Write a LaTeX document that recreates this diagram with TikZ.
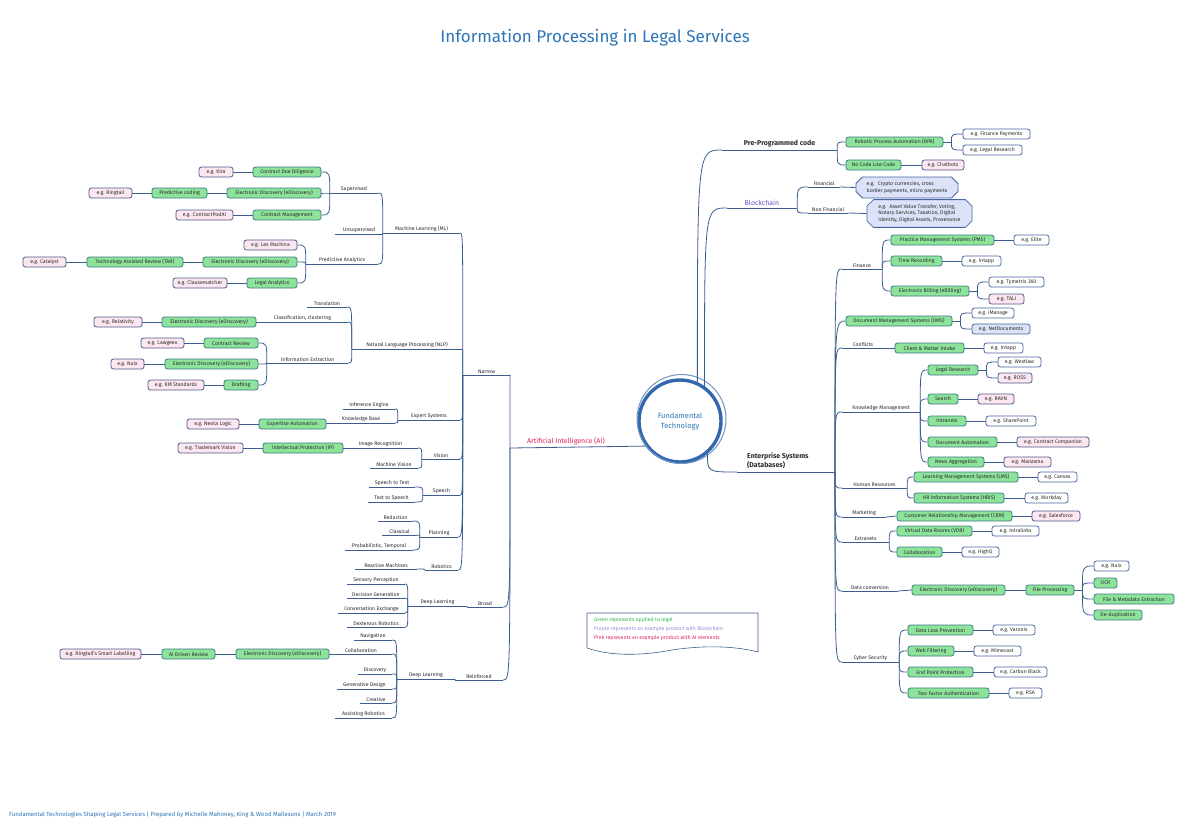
\documentclass[tikz,border=0pt]{standalone}
\usepackage{fontspec}
\setmainfont{Fira Sans}
\usetikzlibrary{calc,shapes.misc}
\definecolor{lkc}{HTML}{3C5E8F}
\definecolor{txt}{HTML}{2B2B2B}
\definecolor{gfill}{HTML}{8DE39A}
\definecolor{gdraw}{HTML}{3E7C88}
\definecolor{pfill}{HTML}{FCE6EF}
\definecolor{pdraw}{HTML}{4D5B8E}
\definecolor{wdraw}{HTML}{4A68A0}
\definecolor{lfill}{HTML}{DCE3F8}
\definecolor{ttl}{HTML}{2E75B6}
\definecolor{ctrc}{HTML}{3468AE}
\definecolor{aired}{HTML}{E0245E}
\definecolor{bcpur}{HTML}{5A55C8}
\definecolor{lgreen}{HTML}{2DB84B}
\definecolor{lpurple}{HTML}{8E8EE0}
\tikzset{
 lk/.style={draw=lkc, line width=0.8pt},
 lbl/.style={font=\fontsize{5.2}{6}\selectfont, text=txt, inner xsep=0pt, inner ysep=1.3pt, anchor=south},
 bigl/.style={font=\bfseries\fontsize{7}{8.5}\selectfont, inner ysep=2.5pt},
 bxs/.style={rounded corners=2.5pt, line width=0.8pt, minimum height=10pt, inner sep=0pt, font=\fontsize{5.2}{6}\selectfont, text=txt},
 gbox/.style={bxs, fill=gfill, draw=gdraw},
 pbox/.style={bxs, fill=pfill, draw=pdraw},
 wbox/.style={bxs, fill=white, draw=wdraw},
 lbox/.style={bxs, fill=lfill, draw=wdraw},
 cbox/.style={chamfered rectangle, chamfered rectangle xsep=3pt, fill=lfill, draw=wdraw, line width=0.8pt, inner xsep=3pt, inner ysep=1pt, align=left, font=\fontsize{5.2}{6.8}\selectfont, text=txt},
 leg/.style={anchor=west, inner sep=0pt, font=\fontsize{5.2}{6}\selectfont},
}
\newcommand\tpc[6][]{\node[lbl,#1,minimum width={#4-#3}] (#2) at ({(#3+#4)/2},#5) {#6};
 \draw[lk] (#2.south west) -- (#2.south east);}
\newcommand\bxn[6]{\node[#1,minimum width={#4-#3}] (#2) at ({(#3+#4)/2},#5) {#6};}
\newcommand\cnx[2]{\draw[lk] (#1) .. controls (#1 |- #2) .. (#2);}
\newcommand\sline[2]{\draw[lk] (#1) -- (#2);}
\newcommand\stub[2]{\coordinate (#2) at ($(#1.east)+(8,0)$); \draw[lk] (#1.east) -- (#2);}
\begin{document}
\begin{tikzpicture}[x=1pt,y=-1pt]
\fill[white] (0,0) rectangle (1188,828);
% title and footer
\node[font=\fontsize{17}{20}\selectfont, text=ttl] (title) at (595,38) {Information Processing in Legal Services};
\node[anchor=west, font=\fontsize{6}{7}\selectfont, text=ttl, inner sep=0pt] (foot) at (9,815) {Fundamental Technologies Shaping Legal Services | Prepared by Michelle Mahoney, King \& Wood Mallesons | March 2019};
% centre
\node[circle, draw=ctrc, line width=3.4pt, minimum size=82pt, inner sep=0pt, align=center, font=\fontsize{7.5}{10}\selectfont, text=ttl] (ctr) at (680,421) {Fundamental\\Technology};
\draw[ctrc!70, line width=1pt] (681.5,419) circle (44.5);
% ---------------- right: pre-programmed code
\tpc[bigl]{ppc}{722}{837}{150}{Pre-Programmed code}
\cnx{ctr.66}{ppc.south west}
\bxn{gbox}{rpa}{846}{943}{142}{Robotic Process Automation (RPA)}
\bxn{wbox}{efp}{963}{1030}{134}{e.g. Finance Payments}
\bxn{wbox}{elr}{963}{1022}{150}{e.g. Legal Research}
\bxn{gbox}{nclc}{846}{901}{165}{No Code Low Code}
\bxn{pbox}{chat}{922}{964}{165}{e.g. Chatbots}
\cnx{ppc.south east}{rpa.west}
\cnx{ppc.south east}{nclc.west}
\stub{rpa}{rpaS}
\cnx{rpaS}{efp.west}
\cnx{rpaS}{elr.west}
\sline{nclc.east}{chat.west}
% ---------------- blockchain
\tpc[bigl,font=\fontsize{7}{8.5}\selectfont,text=bcpur]{bc}{727}{797}{208}{Blockchain}
\cnx{ctr.55}{bc.south west}
\tpc{fin}{808}{840}{187}{Financial}
\tpc{nfin}{808}{848}{213}{Non Financial}
\cnx{bc.south east}{fin.south west}
\cnx{bc.south east}{nfin.south west}
\node[cbox, minimum width=102pt, minimum height=19pt] (cb1) at (907,187.5) {e.g. \ Crypto currencies, cross\\border payments, micro payments};
\node[cbox, minimum width=105pt, minimum height=27pt] (cb2) at (919.5,213.5) {e.g. \ Asset Value Transfer, Voting,\\Notary Services, Taxation, Digital\\Identity, Digital Assets, Provenance};
\sline{fin.south east}{cb1.west}
\sline{nfin.south east}{cb2.west}
% ---------------- enterprise systems
\coordinate (entL) at (737,472);
\coordinate (entR) at (835,472);
\node[font=\bfseries\fontsize{7}{9}\selectfont, text=txt, align=left, anchor=south west, inner sep=0pt] (entlbl) at (747,469) {Enterprise Systems\\(Databases)};
\draw[lk] (entL) -- (entR);
\cnx{ctr.-50}{entL}
\tpc{finance}{842}{882}{269}{Finance}
\tpc{conf}{842}{884}{348}{Conflicts}
\tpc{km}{842}{920}{412}{Knowledge Management}
\tpc{hr}{842}{907}{488}{Human Resources}
\tpc{mk}{842}{886}{517}{Marketing}
\tpc{ex}{842}{889}{542}{Extranets}
\tpc{dc}{842}{898}{591}{Data conversion}
\tpc{cy}{842}{899}{662}{Cyber Security}
\bxn{gbox}{dms}{846}{952}{321}{Document Management Systems (DMS)}
\foreach \n in {finance,conf,km,hr,mk,ex,dc,cy} {\cnx{entR}{\n.south west}}
\cnx{entR}{dms.west}
% finance
\bxn{gbox}{pms}{891}{994}{240}{Practice Management Systems (PMS)}
\bxn{wbox}{elite}{1014}{1049}{240}{e.g. Elite}
\bxn{gbox}{trc}{891}{942}{261}{Time Recording}
\bxn{wbox}{intapp1}{962}{1001}{261}{e.g. Intapp}
\bxn{gbox}{ebill}{891}{969}{291}{Electronic Billing (eBilling)}
\bxn{wbox}{tym}{989}{1044}{282}{e.g. Tymetrix 360}
\bxn{pbox}{tali}{989}{1024}{299}{e.g. TALI}
\foreach \n in {pms,trc,ebill} {\cnx{finance.south east}{\n.west}}
\sline{pms.east}{elite.west}
\sline{trc.east}{intapp1.west}
\stub{ebill}{ebS}
\cnx{ebS}{tym.west}
\cnx{ebS}{tali.west}
% dms
\bxn{wbox}{iman}{972}{1014}{313}{e.g. iManage}
\bxn{lbox}{netd}{972}{1030}{329}{e.g. NetDocuments}
\stub{dms}{dmsS}
\cnx{dmsS}{iman.west}
\cnx{dmsS}{netd.west}
% conflicts
\bxn{gbox}{cmi}{895}{964}{348}{Client \& Matter Intake}
\bxn{wbox}{intapp2}{984}{1023}{348}{e.g. Intapp}
\sline{conf.south east}{cmi.west}
\sline{cmi.east}{intapp2.west}
% knowledge management
\bxn{gbox}{lr}{928}{978}{370}{Legal Research}
\bxn{wbox}{wl}{998}{1041}{362}{e.g. Westlaw}
\bxn{pbox}{ross}{998}{1032}{378}{e.g. ROSS}
\bxn{gbox}{srch}{928}{958}{399}{Search}
\bxn{pbox}{ravn}{978}{1014}{399}{e.g. RAVN}
\bxn{gbox}{intr}{928}{966}{421}{Intranets}
\bxn{wbox}{shp}{986}{1036}{421}{e.g. SharePoint}
\bxn{gbox}{da}{928}{997}{442}{Document Automation}
\bxn{pbox}{ccomp}{1017}{1089}{442}{e.g. Contract Companion}
\bxn{gbox}{na}{928}{984}{462}{News Aggregation}
\bxn{pbox}{manz}{1004}{1051}{462}{e.g. Manzama}
\foreach \n in {lr,srch,intr,da,na} {\cnx{km.south east}{\n.west}}
\stub{lr}{lrS}
\cnx{lrS}{wl.west}
\cnx{lrS}{ross.west}
\sline{srch.east}{ravn.west}
\sline{intr.east}{shp.west}
\sline{da.east}{ccomp.west}
\sline{na.east}{manz.west}
% human resources
\bxn{gbox}{lms}{914}{1018}{477}{Learning Management Systems (LMS)}
\bxn{wbox}{canv}{1038}{1077}{477}{e.g. Canvas}
\bxn{gbox}{hris}{914}{1004}{498}{HR Information Systems (HRIS)}
\bxn{wbox}{wd}{1025}{1068}{498}{e.g. Workday}
\cnx{hr.south east}{lms.west}
\cnx{hr.south east}{hris.west}
\sline{lms.east}{canv.west}
\sline{hris.east}{wd.west}
% marketing
\bxn{gbox}{crm}{897}{1012}{516}{Customer Relationship Management (CRM)}
\bxn{pbox}{sf}{1032}{1080}{516}{e.g. Salesforce}
\sline{mk.south east}{crm.west}
\sline{crm.east}{sf.west}
% extranets
\bxn{gbox}{vdr}{897}{972}{531}{Virtual Data Rooms (VDR)}
\bxn{wbox}{intl}{992}{1039}{531}{e.g. Intralinks}
\bxn{gbox}{collab}{897}{942}{552}{Collaboration}
\bxn{wbox}{hq}{962}{999}{552}{e.g. HighQ}
\cnx{ex.south east}{vdr.west}
\cnx{ex.south east}{collab.west}
\sline{vdr.east}{intl.west}
\sline{collab.east}{hq.west}
% data conversion
\bxn{gbox}{ed6}{912}{1005}{590}{Electronic Discovery (eDiscovery)}
\bxn{gbox}{fp}{1026}{1074}{590}{File Processing}
\bxn{wbox}{nuix2}{1094}{1129}{566}{e.g. Nuix}
\bxn{gbox}{ocr}{1094}{1117}{583}{OCR}
\bxn{gbox}{fme}{1094}{1174}{599}{File \& Metadata Extraction}
\bxn{gbox}{dedup}{1094}{1142}{615}{De-duplication}
\sline{dc.south east}{ed6.west}
\sline{ed6.east}{fp.west}
\stub{fp}{fpS}
\foreach \n in {nuix2,ocr,fme,dedup} {\cnx{fpS}{\n.west}}
% cyber security
\bxn{gbox}{dlp}{908}{973}{630}{Data Loss Prevention}
\bxn{wbox}{var}{993}{1035}{630}{e.g. Varonis}
\bxn{gbox}{wf}{908}{954}{651}{Web Filtering}
\bxn{wbox}{mime}{974}{1021}{651}{e.g. Mimecast}
\bxn{gbox}{epp}{908}{973}{672}{End Point Protection}
\bxn{wbox}{cblk}{994}{1047}{672}{e.g. Carbon Black}
\bxn{gbox}{tfa}{908}{989}{693}{Two Factor Authentication}
\bxn{wbox}{rsa}{1009}{1042}{693}{e.g. RSA}
\foreach \n in {dlp,wf,epp,tfa} {\cnx{cy.south east}{\n.west}}
\sline{dlp.east}{var.west}
\sline{wf.east}{mime.west}
\sline{epp.east}{cblk.west}
\sline{tfa.east}{rsa.west}
% ---------------- left: artificial intelligence
\node[font=\fontsize{7}{8.5}\selectfont, text=aired, anchor=south, inner sep=0pt] (ailbl) at (566,445) {Artificial Intelligence (AI)};
\coordinate (aiL) at (510,448);
\draw[lk] (ctr.-144) -- (aiL);
\tpc{nar}{463}{510}{375}{Narrow}
\tpc{br}{467}{503}{607}{Broad}
\tpc{rf}{455}{503}{680}{Reinforced}
\cnx{aiL}{nar.south east}
\cnx{aiL}{br.south east}
\cnx{aiL}{rf.south east}
% narrow children
\tpc{ml}{383}{460}{233}{Machine Learning (ML)}
\tpc{nlp}{352}{462}{349}{Natural Language Processing (NLP)}
\tpc{es}{398}{460}{420}{Expert Systems}
\tpc{vis}{422}{460}{459}{Vision}
\tpc{sp}{423}{460}{495}{Speech}
\tpc{pl}{420}{458}{537}{Planning}
\tpc{rob}{425}{458}{570}{Robotics}
\foreach \n in {ml,nlp,es,vis,sp,pl,rob} {\cnx{nar.south west}{\n.south east}}
% machine learning
\tpc{sup}{330}{378}{193}{Supervised}
\tpc{uns}{335}{383}{234}{Unsupervised}
\tpc{pa}{306}{378}{264}{Predictive Analytics}
\foreach \n in {sup,uns,pa} {\cnx{ml.south west}{\n.south east}}
\bxn{gbox}{cdd}{253}{321}{172}{Contract Due Diligence}
\bxn{pbox}{kira}{199}{233}{172}{e.g. Kira}
\bxn{gbox}{ed1}{227}{321}{193}{Electronic Discovery (eDiscovery)}
\bxn{gbox}{pc}{152}{207}{193}{Predictive coding}
\bxn{pbox}{ring}{89}{132}{193}{e.g. Ringtail}
\bxn{gbox}{cm}{253}{321}{215}{Contract Management}
\bxn{pbox}{cpa}{176}{233}{215}{e.g. ContractPodAI}
\foreach \n in {cdd,ed1,cm} {\cnx{sup.south west}{\n.east}}
\sline{cdd.west}{kira.east}
\sline{ed1.west}{pc.east}
\sline{pc.west}{ring.east}
\sline{cm.west}{cpa.east}
\bxn{pbox}{lm}{244}{297}{245}{e.g. Lex Machina}
\bxn{gbox}{ed2}{203}{297}{262}{Electronic Discovery (eDiscovery)}
\bxn{gbox}{tar}{87}{183}{262}{Technology Assisted Review (TAR)}
\bxn{pbox}{cat}{23}{66}{262}{e.g. Catalyst}
\bxn{gbox}{la}{247}{297}{283}{Legal Analytics}
\bxn{pbox}{cls}{173}{227}{283}{e.g. Clausematcher}
\foreach \n in {lm,ed2,la} {\cnx{pa.south west}{\n.east}}
\sline{ed2.west}{tar.east}
\sline{tar.west}{cat.east}
\sline{la.west}{cls.east}
% nlp
\tpc{tr}{307}{347}{307}{Translation}
\tpc{cc}{257}{348}{322}{Classification, clustering}
\tpc{ie}{267}{348}{363}{Information Extraction}
\foreach \n in {tr,cc,ie} {\cnx{nlp.south west}{\n.south east}}
\bxn{gbox}{ed3}{162}{256}{322}{Electronic Discovery (eDiscovery)}
\bxn{pbox}{rel}{94}{142}{322}{e.g. Relativity}
\sline{cc.south west}{ed3.east}
\sline{ed3.west}{rel.east}
\bxn{gbox}{cr}{204}{258}{343}{Contract Review}
\bxn{pbox}{lg}{141}{184}{343}{e.g. Lawgeex}
\bxn{gbox}{ed4}{165}{258}{364}{Electronic Discovery (eDiscovery)}
\bxn{pbox}{nuix1}{111}{144}{364}{e.g. Nuix}
\bxn{gbox}{dft}{224}{258}{385}{Drafting}
\bxn{pbox}{kms}{148}{204}{385}{e.g. KM Standards}
\foreach \n in {cr,ed4,dft} {\cnx{ie.south west}{\n.east}}
\sline{cr.west}{lg.east}
\sline{ed4.west}{nuix1.east}
\sline{dft.west}{kms.east}
% expert systems
\tpc{ieng}{343}{395}{409}{Inference Engine}
\tpc{kb}{327}{395}{423}{Knowledge Base}
\cnx{es.south west}{ieng.south east}
\cnx{es.south west}{kb.south east}
\bxn{gbox}{ea}{259}{326}{424}{Expertise Automation}
\bxn{pbox}{nl}{187}{239}{424}{e.g. Neota Logic}
\sline{kb.south west}{ea.east}
\sline{ea.west}{nl.east}
% vision
\tpc{ir}{343}{418}{448}{Image Recognition}
\tpc{mv}{370}{418}{468}{Machine Vision}
\cnx{vis.south west}{ir.south east}
\cnx{vis.south west}{mv.south east}
\bxn{gbox}{ip}{263}{343}{448}{Intellectual Protection (IP)}
\bxn{pbox}{tv}{178}{243}{448}{e.g. Trademark Vision}
\sline{ir.south west}{ip.east}
\sline{ip.west}{tv.east}
% speech
\tpc{stt}{369}{415}{487}{Speech to Text}
\tpc{tts}{368}{415}{502}{Text to Speech}
\cnx{sp.south west}{stt.south east}
\cnx{sp.south west}{tts.south east}
% planning
\tpc{red}{378}{413}{521}{Reduction}
\tpc{cla}{382}{417}{535}{Classical}
\tpc{ptm}{345}{413}{550}{Probabilistic, Temporal}
\foreach \n in {red,cla,ptm} {\cnx{pl.south west}{\n.south east}}
% robotics
\tpc{rm}{355}{417}{569}{Reactive Machines}
\cnx{rob.south west}{rm.south east}
% broad
\tpc{dlb}{408}{467}{606}{Deep Learning}
\cnx{br.south west}{dlb.south east}
\tpc{sen}{347}{405}{584}{Sensory Perception}
\tpc{dg}{347}{405}{598}{Decision Generation}
\tpc{ce}{338}{405}{613}{Conversation Exchange}
\tpc{dr}{347}{405}{627}{Dexterous Robotics}
\foreach \n in {sen,dg,ce,dr} {\cnx{dlb.south west}{\n.south east}}
% reinforced
\tpc{dlr}{397}{455}{679}{Deep Learning}
\cnx{rf.south west}{dlr.south east}
\tpc{nav}{354}{392}{640}{Navigation}
\tpc{col}{330}{392}{654}{Collaboration}
\tpc{dis}{358}{392}{674}{Discovery}
\tpc{gd}{337}{392}{689}{Generative Design}
\tpc{cre}{360}{392}{703}{Creative}
\tpc{ar}{335}{392}{718}{Assisting Robotics}
\foreach \n in {nav,col,dis,gd,cre,ar} {\cnx{dlr.south west}{\n.south east}}
\bxn{gbox}{ed5}{236}{329}{654}{Electronic Discovery (eDiscovery)}
\bxn{gbox}{adr}{162}{215}{654}{AI Driven Review}
\bxn{pbox}{rsl}{60}{141}{654}{e.g. Ringtail's Smart Labelling}
\sline{col.south west}{ed5.east}
\sline{ed5.west}{adr.east}
\sline{adr.west}{rsl.east}
% ---------------- legend
\draw[draw=lkc, line width=0.6pt, fill=white] (587,613) -- (758,613) -- (758,652)
  .. controls (735,646) and (705,645) .. (672,650)
  .. controls (640,656) and (610,656) .. (587,648) -- cycle;
\node[leg, text=lgreen] (lg1) at (594,620) {Green represents applied to legal};
\node[leg, text=lpurple] (lg2) at (594,629) {Purple represents an example product with Blockchain};
\node[leg, text=aired] (lg3) at (594,638) {Pink represents an example product with AI elements};
\end{tikzpicture}
\end{document}
